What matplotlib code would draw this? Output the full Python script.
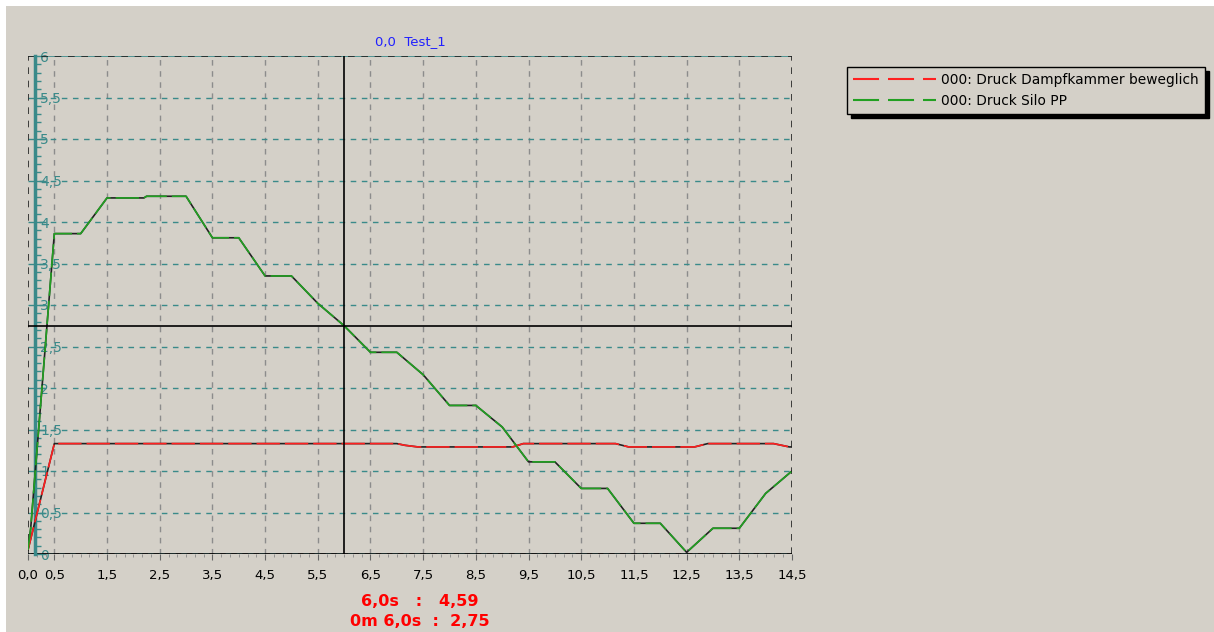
import matplotlib
matplotlib.use('Agg')
import matplotlib.pyplot as plt
from matplotlib.lines import Line2D
from matplotlib.patches import Rectangle
import numpy as np

silo_x = [0.0, 0.05, 0.5, 1.0, 1.5, 2.2, 2.25, 3.0, 3.5, 4.0, 4.5, 5.0, 5.5, 6.0,
          6.5, 7.0, 7.5, 8.0, 8.5, 9.0, 9.5, 10.0, 10.5, 11.0, 11.5, 12.0, 12.5,
          13.0, 13.5, 14.0, 14.5]
silo_y = [0.05, 0.3, 3.86, 3.86, 4.29, 4.29, 4.31, 4.31, 3.81, 3.81, 3.35, 3.35, 3.02, 2.75,
          2.43, 2.43, 2.16, 1.79, 1.79, 1.53, 1.11, 1.11, 0.79, 0.79, 0.37, 0.37, 0.02,
          0.31, 0.31, 0.73, 1.0]

damp_x = [0.0, 0.5, 7.0, 7.15, 7.4, 9.2, 9.4, 11.15, 11.4, 12.65, 12.9, 14.15, 14.45, 14.5]
damp_y = [0.05, 1.33, 1.33, 1.31, 1.29, 1.29, 1.33, 1.33, 1.29, 1.29, 1.33, 1.33, 1.29, 1.29]

legend_labels = ["000: Druck Dampfkammer beweglich", "000: Druck Silo PP"]
title = "0,0  Test_1"
cursor_x = 6.0
cursor_y = 2.75
readout = ["6,0s   :   4,59", "0m 6,0s  :  2,75"]

x_ticks = [0.0] + list(np.arange(0.5, 14.6, 1.0))
y_ticks = list(np.arange(0, 6.01, 0.5))

BG = '#D4D0C8'
TEAL = '#3A8A8A'
RED = '#FF2020'
GREEN = '#22A022'

W, H = 1214, 632
fig = plt.figure(figsize=(W / 100, H / 100), dpi=100, facecolor='white')
fig.patches.append(Rectangle((6 / W, -0.1), 2, 1.1 - 6 / H, transform=fig.transFigure,
                             facecolor=BG, edgecolor='none', zorder=-10))

x0, x1, y0, y1 = 28, 792, 56, 554
ax = fig.add_axes([x0 / W, 1 - y1 / H, (x1 - x0) / W, (y1 - y0) / H])
ax.set_facecolor(BG)
ax.set_xlim(0, 14.5)
ax.set_ylim(0, 6)

# Gitter
for gx in x_ticks[1:-1]:
    ax.axvline(gx, color='#8C8C8C', lw=1, ls=(0, (4, 4)), zorder=1)
for gy in y_ticks[1:-1]:
    ax.axhline(gy, color=TEAL, lw=1, ls=(0, (4, 4)), zorder=1)

# Rahmen
for s in ['left', 'right', 'top', 'bottom']:
    ax.spines[s].set_visible(False)
ax.axhline(6, color=TEAL, lw=1.2, zorder=2)
ax.axhline(6, color='#222222', lw=1.2, ls=(0, (4, 4)), zorder=2)
ax.axvline(14.5, color='#222222', lw=1.2, ls=(0, (4, 4)), zorder=2)
ax.axvline(0, color='#222222', lw=1.2, ls=(0, (4, 4)), zorder=2)
ax.axhline(0, color='black', lw=2, zorder=2)
ax.axhline(0, color=TEAL, lw=1, ls=(2, (4, 4)), zorder=2)

# y-Achse (innen, tuerkis)
ax.spines['left'].set_visible(True)
ax.spines['left'].set_position(('data', 0.13))
ax.spines['left'].set_color(TEAL)
ax.spines['left'].set_linewidth(2.5)
ax.set_yticks(y_ticks)
ax.set_yticklabels([f"{v:g}".replace('.', ',') for v in y_ticks], color=TEAL, fontsize=10)
ax.set_yticks(np.arange(0, 6.01, 0.1), minor=True)
ax.tick_params(axis='y', which='major', direction='in', length=8, color=TEAL, width=1, pad=-4)
ax.tick_params(axis='y', which='minor', direction='in', length=4, color=TEAL, width=1)
for lab in ax.get_yticklabels():
    lab.set_horizontalalignment('left')

ax.set_xticks(x_ticks)
ax.set_xticklabels([f"{v:.1f}".replace('.', ',') for v in x_ticks], fontsize=9.5)
ax.set_xticks(np.arange(0, 14.51, 1 / 6), minor=True)
ax.tick_params(axis='x', which='major', direction='out', length=4, color='#666666', pad=7)
ax.tick_params(axis='x', which='minor', direction='out', length=2, color='#888888')

# Kurven: schwarz unterlegt, farbig gestrichelt darueber
ax.plot(damp_x, damp_y, color='#222222', lw=1.2, zorder=3)
ax.plot(damp_x, damp_y, color=RED, lw=1.2, ls=(0, (14, 3)), zorder=4)
ax.plot(silo_x, silo_y, color='#222222', lw=1.2, zorder=3)
ax.plot(silo_x, silo_y, color=GREEN, lw=1.2, ls=(0, (14, 3)), zorder=4)

# Fadenkreuz
ax.axvline(cursor_x, color='black', lw=1.2, zorder=5)
ax.axhline(cursor_y, color='black', lw=1.2, zorder=5)

ax.set_title(title, color='#2020FF', fontsize=9.5, pad=8)

handles = [Line2D([], [], color=RED, lw=1.5, ls=(0, (12.5, 4.3))),
           Line2D([], [], color=GREEN, lw=1.5, ls=(0, (12.5, 4.3)))]
leg = fig.legend(handles, legend_labels, loc='upper left',
                 bbox_to_anchor=(847 / W, 1 - 67 / H), fontsize=9.9,
                 frameon=True, fancybox=False, facecolor=BG, edgecolor='black',
                 framealpha=1, handlelength=6.0, handletextpad=0.4,
                 borderpad=0.45, labelspacing=0.5, borderaxespad=0,
                 shadow={'ox': 3, 'oy': -3, 'color': 'black', 'alpha': 1})
leg.get_frame().set_linewidth(1)

fig.text(420 / W, 1 - 602 / H, readout[0], color='#FF0000', fontsize=11.5,
         fontweight='bold', ha='center', va='center')
fig.text(420 / W, 1 - 621 / H, readout[1], color='#FF0000', fontsize=11.5,
         fontweight='bold', ha='center', va='center')

fig.savefig('out.png', dpi=100, facecolor=fig.get_facecolor())
